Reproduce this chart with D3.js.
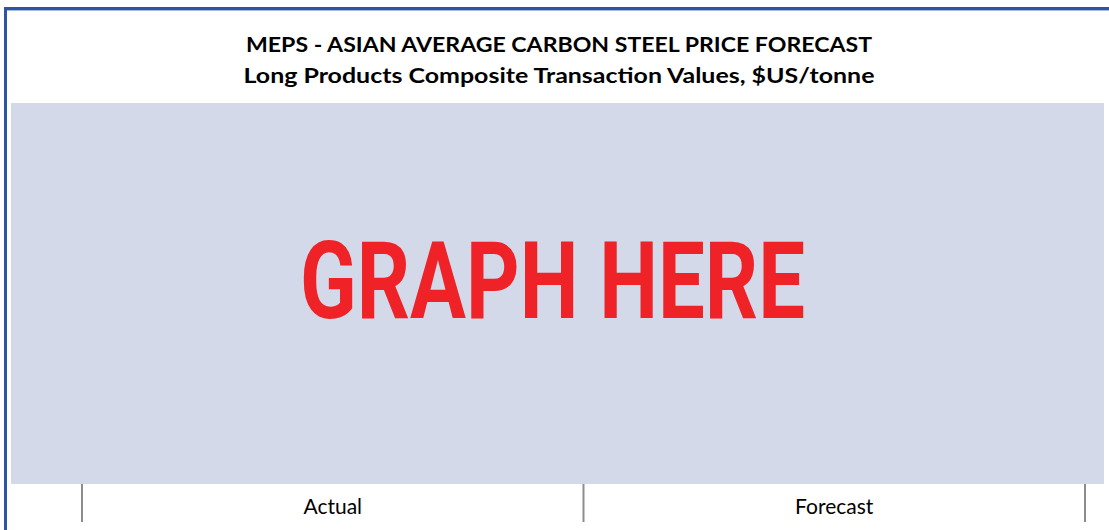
<!DOCTYPE html>
<html>
<head>
<meta charset="utf-8">
<script src="https://cdn.jsdelivr.net/npm/d3@7"></script>
<style>
body { margin: 0; background: #fff; }
</style>
</head>
<body>
<script>
var titleLines = ["MEPS - ASIAN AVERAGE CARBON STEEL PRICE FORECAST",
                  "Long Products Composite Transaction Values, $US/tonne"]
var titleWidths = [626, 631]
var periods = ["Actual", "Forecast"]
var placeholder = "GRAPH HERE"

var width = 1109, height = 530
var svg = d3.select("body").append("svg")
    .attr("width", width)
    .attr("height", height)

// frame
svg.append("rect").attr("x", 4).attr("y", 7).attr("width", width).attr("height", 3).attr("fill", "#2e54a3")
svg.append("rect").attr("x", 4).attr("y", 10).attr("width", width).attr("height", 1).attr("fill", "#a9bbdc")
svg.append("rect").attr("x", 4).attr("y", 7).attr("width", 3).attr("height", height).attr("fill", "#2e54a3")

svg.selectAll("text.title")
    .data(titleLines)
    .enter()
    .append("text")
        .attr("class", "title")
        .attr("x", 559)
        .attr("y", function(d, i) { return 52 + i * 31 })
        .attr("text-anchor", "middle")
        .attr("textLength", function(d, i) { return titleWidths[i] })
        .attr("lengthAdjust", "spacingAndGlyphs")
        .attr("font-family", "Lato, sans-serif")
        .attr("font-weight", "bold")
        .attr("font-size", 20)
        .attr("fill", "#000")
        .text(function(d) { return d })

// plot placeholder
svg.append("rect")
    .attr("x", 11).attr("y", 103)
    .attr("width", 1093).attr("height", 381)
    .attr("fill", "#d3d9e8")

svg.append("text")
    .attr("x", 300)
    .attr("y", 318)
    .attr("textLength", 505)
    .attr("lengthAdjust", "spacingAndGlyphs")
    .attr("font-family", "Roboto, sans-serif")
    .attr("font-weight", "bold")
    .attr("font-size", 108)
    .attr("fill", "#ee2227")
    .text(placeholder)

// period axis
var x = d3.scaleBand()
    .domain(periods)
    .range([81, 1084])

var bounds = periods.map(function(p) { return x(p) }).concat([x.range()[1]])

svg.selectAll("line.div")
    .data(bounds)
    .enter()
    .append("line")
        .attr("class", "div")
        .attr("x1", function(d) { return d + 1 })
        .attr("x2", function(d) { return d + 1 })
        .attr("y1", 484)
        .attr("y2", 522)
        .attr("stroke", "#8c8c8c")
        .attr("stroke-width", 2)

svg.selectAll("text.period")
    .data(periods)
    .enter()
    .append("text")
        .attr("class", "period")
        .attr("x", function(d) { return x(d) + x.bandwidth() / 2 + 1 })
        .attr("y", 514)
        .attr("text-anchor", "middle")
        .attr("font-family", "Lato, sans-serif")
        .attr("font-size", 21)
        .attr("fill", "#000")
        .text(function(d) { return d })
</script>
</body>
</html>
